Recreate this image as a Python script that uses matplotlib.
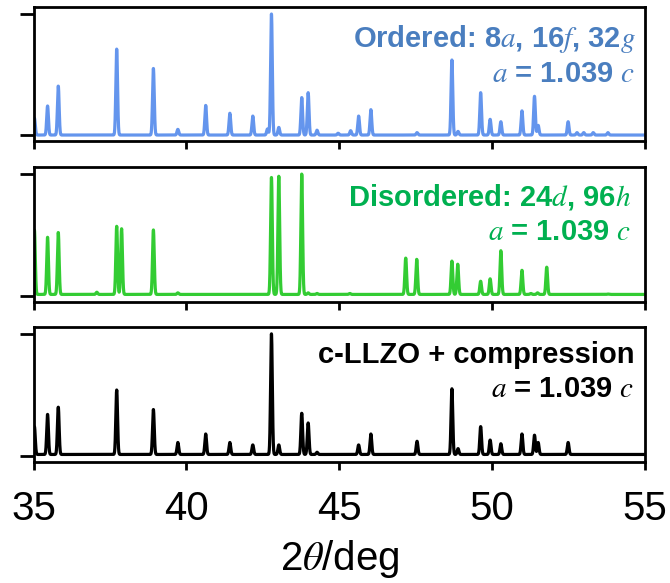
import numpy as np
import matplotlib
matplotlib.use("Agg")
import matplotlib.pyplot as plt

plt.rcParams["font.family"] = ["Liberation Sans", "DejaVu Sans"]
plt.rcParams["mathtext.fontset"] = "stix"

# peak positions (deg 2theta) and normalised heights for each pattern
ord_pos = [35.03, 35.46, 35.81, 37.72, 38.92, 39.72, 40.63, 41.42, 42.17, 42.65, 42.78,
           43.02, 43.77, 43.98, 44.27, 44.96, 45.37, 45.63, 46.03, 47.54, 48.68, 48.88,
           49.62, 49.93, 50.28, 50.97, 51.38, 51.50, 52.48, 52.77, 52.99, 53.30, 53.78]
ord_int = [0.14, 0.24, 0.405, 0.71, 0.55, 0.047, 0.245, 0.18, 0.157, 0.05, 1.0,
           0.063, 0.31, 0.35, 0.04, 0.015, 0.036, 0.157, 0.21, 0.02, 0.62, 0.03,
           0.35, 0.13, 0.11, 0.20, 0.32, 0.08, 0.11, 0.02, 0.02, 0.02, 0.02]

dis_pos = [35.03, 35.46, 35.81, 37.07, 37.72, 37.88, 38.92, 39.72, 42.78, 43.02, 43.77,
           43.98, 44.27, 45.34, 47.17, 47.53, 48.68, 48.87, 49.62, 49.93, 50.28, 50.97,
           51.26, 51.48, 51.78, 53.78]
dis_int = [0.54, 0.48, 0.52, 0.03, 0.57, 0.55, 0.54, 0.025, 0.97, 0.98, 1.0,
           0.025, 0.02, 0.02, 0.31, 0.30, 0.285, 0.26, 0.12, 0.14, 0.37, 0.21,
           0.02, 0.025, 0.235, 0.015]

cmp_pos = [35.03, 35.46, 35.81, 37.72, 38.92, 39.72, 40.63, 41.42, 42.17, 42.78, 43.02,
           43.77, 43.98, 44.27, 45.63, 46.03, 47.54, 48.68, 48.88, 49.62, 49.93, 50.28,
           50.97, 51.38, 51.50, 52.48]
cmp_int = [0.24, 0.34, 0.40, 0.54, 0.38, 0.11, 0.18, 0.11, 0.09, 1.0, 0.09,
           0.35, 0.27, 0.03, 0.09, 0.18, 0.12, 0.55, 0.06, 0.24, 0.13, 0.10,
           0.18, 0.17, 0.11, 0.11]

baselines = [0.0, 0.012, 0.012]
line_cols = ["#6495ED", "#33CC33", "#000000"]
text_cols = ["#4A7EBF", "#00B050", "#000000"]
titles = [r"Ordered: 8$a$, 16$f$, 32$g$", r"Disordered: 24$d$, 96$h$", "c-LLZO + compression"]
subtitle = r"$a$ = 1.039 $c$"

tt = np.arange(34.9, 55.1, 0.004)

def pattern(pos, inten, base, sig=0.028):
    y = np.full_like(tt, base)
    for p, h in zip(pos, inten):
        y += (h - base) * np.exp(-0.5 * ((tt - p) / sig) ** 2)
    return y

fig = plt.figure(figsize=(6.7, 5.83), dpi=100)
boxes = [(0.05, 0.758, 0.913, 0.230), (0.05, 0.482, 0.913, 0.232), (0.05, 0.2075, 0.913, 0.232)]
data = [(ord_pos, ord_int), (dis_pos, dis_int), (cmp_pos, cmp_int)]
txt_pos = [(0.984, 0.704, 0.443), (0.977, 0.713, 0.455), (0.982, 0.731, 0.479)]

for i, (box, (pos, inten)) in enumerate(zip(boxes, data)):
    ax = fig.add_axes(box)
    ax.plot(tt, pattern(pos, inten, baselines[i]), color=line_cols[i], lw=2.3, solid_joinstyle="round")
    ax.set_xlim(35, 55)
    ax.set_ylim(-0.05, 1.058)
    ax.set_yticks([0, 1]); ax.set_yticklabels([])
    ax.set_xticks([35, 40, 45, 50, 55])
    for s in ax.spines.values():
        s.set_linewidth(2.0)
    ax.tick_params(axis="y", direction="out", length=10, width=2)
    ax.tick_params(axis="x", direction="out", length=5.5, width=2, labelsize=29, pad=15)
    if i < 2:
        ax.set_xticklabels([])
    else:
        ax.set_xlabel(r"2$\theta$/deg", fontsize=29, labelpad=7)
    xr, y1, y2 = txt_pos[i]
    ax.text(xr, y1, titles[i], transform=ax.transAxes, ha="right", va="baseline",
            fontsize=21, fontweight="bold", color=text_cols[i])
    ax.text(xr, y2, subtitle, transform=ax.transAxes, ha="right", va="baseline",
            fontsize=21, fontweight="bold", color=text_cols[i])

fig.savefig("out.png", dpi=100)
